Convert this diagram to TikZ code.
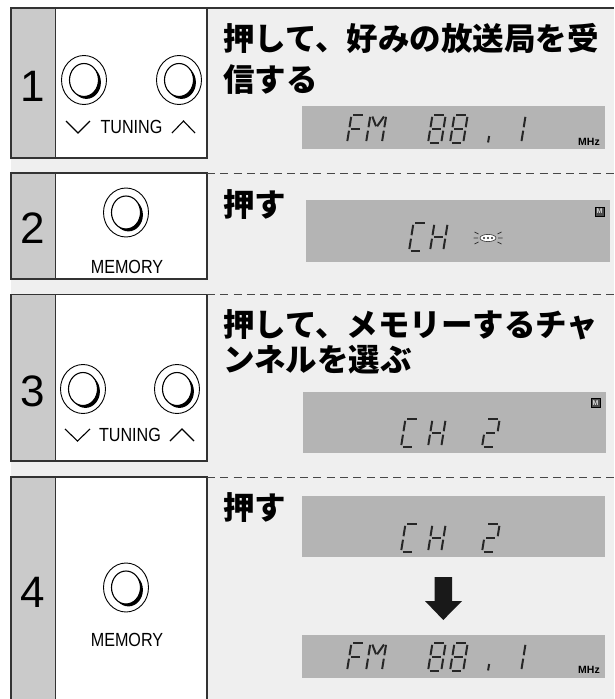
\documentclass[tikz,border=0pt]{standalone}
\usepackage{fontspec}
\setmainfont{Liberation Sans}
\newfontfamily\jpfont{Noto Sans CJK JP}
\definecolor{bgl}{HTML}{EFEFEF}
\definecolor{numc}{HTML}{CACACA}
\definecolor{lcdc}{HTML}{B4B4B4}
\definecolor{framec}{HTML}{333333}
\tikzset{
  numcol/.style={fill=numc,draw=framec,line width=1.5pt},
  panel/.style={fill=white,draw=framec,line width=1.5pt},
  frameline/.style={draw=framec,line width=1.8pt},
  dashline/.style={draw=framec!90,line width=1pt,dash pattern=on 8pt off 5.3pt},
  lcd/.style={fill=lcdc},
  segline/.style={line width=2pt,draw=black!85},
  chev/.style={draw=black,line width=1.1pt},
  lbl/.style={inner sep=0pt,font=\fontsize{19}{19}\selectfont},
  stepnum/.style={inner sep=0pt,anchor=base,font=\fontsize{44}{44}\selectfont},
  jp/.style={inner sep=0pt,anchor=base west,font=\jpfont\bfseries\fontsize{31.5}{32}\selectfont},
  mhz/.style={inner sep=0pt,anchor=base east,font=\bfseries\fontsize{10.5}{10.5}\selectfont},
  micon/.style={fill=black!70,draw=black,line width=0.6pt,minimum size=9pt,inner sep=0pt,text=black!15,font=\bfseries\fontsize{7}{7}\selectfont},
  knob/.pic={
    \draw[line width=0.9pt] (0,0) ellipse [x radius=22.5, y radius=24.5];
    \draw[line width=1.1pt] (0,0) ellipse [x radius=14.5, y radius=16.5];
    \begin{scope}
      \clip (-40,40) -- (40,-40) -- (40,40) -- cycle;
      \fill[even odd rule] (2.4,2.4) ellipse [x radius=14.5, y radius=16.5] (0,0) ellipse [x radius=14.5, y radius=16.5];
    \end{scope}
  }
}
% seven segment pieces (local coords, y up, width 12, height 26)
\newcommand\sgA{\draw[segline] (1.8,26)--(10.2,26);}
\newcommand\sgB{\draw[segline] (12,24.2)--(12,14.6);}
\newcommand\sgC{\draw[segline] (12,11.4)--(12,1.8);}
\newcommand\sgD{\draw[segline] (1.8,0)--(10.2,0);}
\newcommand\sgE{\draw[segline] (0,1.8)--(0,11.4);}
\newcommand\sgF{\draw[segline] (0,14.6)--(0,24.2);}
\newcommand\sgG{\draw[segline] (1.8,13)--(10.2,13);}
\newcommand\sgX{\draw[segline] (1.6,24.5)--(5.6,15.5);}
\newcommand\sgY{\draw[segline] (10.4,24.5)--(6.4,15.5);}
\newcommand\sgP{\draw[segline] (0,0.5)--(0,6.5);}
\newcommand\lcdchar[4][]{\begin{scope}[shift={(#2,#3)},x=1pt,y=1pt,xslant=0.16,xscale=1.1,yscale=1.08,#1]\foreach \s in {#4}{\csname sg\s\endcsname}\end{scope}}
\newcommand\fmline[1]{%
  \lcdchar{347}{#1}{A,F,E,G}
  \lcdchar[xscale=1.2]{366}{#1}{F,E,B,C,X,Y}
  \lcdchar{428}{#1}{A,B,C,D,E,F,G}
  \lcdchar{450}{#1}{A,B,C,D,E,F,G}
  \lcdchar{488}{#1}{P}
  \lcdchar{508}{#1}{B,C}}
\newcommand\chtwo[1]{%
  \lcdchar{401}{#1}{A,F,E,D}
  \lcdchar{428}{#1}{F,E,B,C,G}
  \lcdchar{482}{#1}{A,B,G,E,D}}
\begin{document}
\begin{tikzpicture}[x=1pt,y=-1pt]
\useasboundingbox (0,0) rectangle (614,699);
\fill[white] (0,0) rectangle (614,699);
\fill[bgl] (11,8) rectangle (614,699);

% ---------- step boxes
\path[numcol] (11,8) rectangle (55.5,158);
\path[panel] (55.5,8) rectangle (207,158);
\path[numcol] (11,173) rectangle (55.5,279);
\path[panel] (55.5,173) rectangle (207,279);
\path[numcol] (11,294.7) rectangle (55.5,461);
\path[panel] (55.5,294.7) rectangle (207,461);
\path[numcol] (11,477) rectangle (55.5,712);
\path[panel] (55.5,477) rectangle (207,712);
\draw[frameline] (11,8) -- (614,8);
\draw[dashline] (207,173) -- (614,173);
\draw[dashline] (207,294.7) -- (614,294.7);
\draw[dashline] (207,477) -- (614,477);

% ---------- step numbers
\node[stepnum] (n1) at (33,101) {1};
\node[stepnum] (n2) at (33,243) {2};
\node[stepnum] (n3) at (33,406) {3};
\node[stepnum] (n4) at (33,607) {4};

% ---------- step 1 controls
\pic at (84,80) {knob};
\pic at (179,80) {knob};
\draw[chev] (66,121) -- (78,133) -- (90,121);
\draw[chev] (172,133) -- (183.5,121) -- (195,133);
\node[lbl] (tun1) at (131.5,127) {\scalebox{0.85}[1]{TUNING}};

% ---------- step 2 controls
\pic at (126,212.5) {knob};
\node[lbl] (mem2) at (127,266.5) {\scalebox{0.85}[1]{MEMORY}};

% ---------- step 3 controls
\pic at (83,389) {knob};
\pic at (177,389) {knob};
\draw[chev] (65,429) -- (77.5,441) -- (90,429);
\draw[chev] (170,441) -- (182,429) -- (194,441);
\node[lbl] (tun3) at (130,435) {\scalebox{0.85}[1]{TUNING}};

% ---------- step 4 controls
\pic at (126,587.5) {knob};
\node[lbl] (mem4) at (127,640) {\scalebox{0.85}[1]{MEMORY}};

% ---------- headings
\node[jp] (h1a) at (223,50) {押して、好みの放送局を受};
\node[jp] (h1b) at (223,91) {信する};
\node[jp] (h2) at (223,216) {押す};
\node[jp] (h3a) at (223,336) {押して、メモリーするチャ};
\node[jp] (h3b) at (223,371) {ンネルを選ぶ};
\node[jp] (h4) at (223,519) {押す};

% ---------- displays
\fill[lcd] (302,106) rectangle (605,149);
\fmline{143}
\node[mhz] (mhz1) at (600,145) {MHz};

\fill[lcd] (306,200) rectangle (610,262);
\node[micon] (m2) at (599.5,211.5) {M};
\lcdchar{409}{251}{A,F,E,D}
\lcdchar{430}{251}{F,E,B,C,G}
\fill[white] (488,238) ellipse [x radius=8, y radius=3.6];
\draw[black!80,line width=0.6pt] (488,238) ellipse [x radius=8, y radius=3.6];
\fill[black!85] (484,238) circle (1.1) (488,238) circle (1.1) (492,238) circle (1.1);
\draw[black!80,line width=0.8pt] (478.5,234) -- (474.5,232) (478,238) -- (473.5,238) (478.5,242) -- (474.5,244)
  (497.5,234) -- (501.5,232) (498,238) -- (502.5,238) (497.5,242) -- (501.5,244);

\fill[lcd] (303,392) rectangle (606,453);
\node[micon] (m3) at (595.5,403) {M};
\chtwo{447}

\fill[lcd] (302,496) rectangle (605,557);
\chtwo{552}
\fill[black!90] (434.6,577) -- (452,577) -- (452,601) -- (462,601) -- (443.3,620) -- (425,601) -- (434.6,601) -- cycle;
\fill[lcd] (302,635) rectangle (605,678);
\fmline{671}
\node[mhz] (mhz4) at (600,673) {MHz};
\end{tikzpicture}
\end{document}
